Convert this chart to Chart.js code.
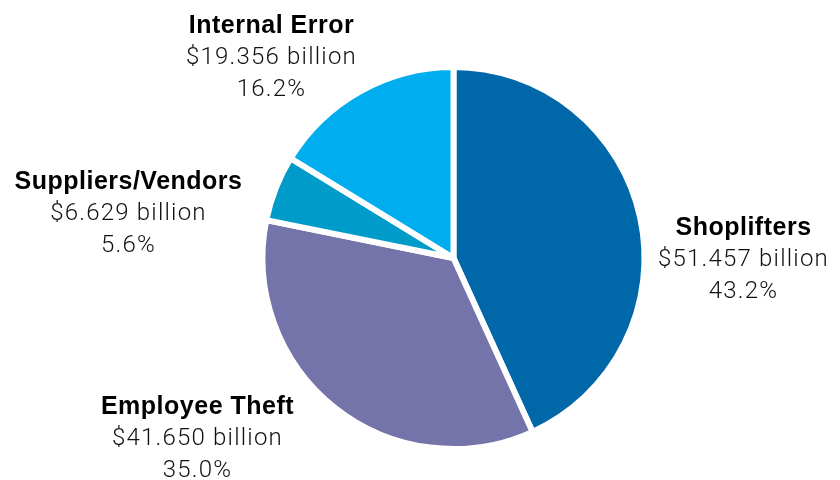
<!DOCTYPE html>
<html>
<head>
<meta charset="utf-8">
<script src="https://cdn.jsdelivr.net/npm/chart.js@4"></script>
<style>
html,body{margin:0;padding:0;background:#fff;}
#wrap{width:840px;height:480px;}
</style>
</head>
<body>
<div id="wrap"><canvas id="c" width="840" height="480"></canvas></div>
<script>
const categories = ["Shoplifters", "Employee Theft", "Suppliers/Vendors", "Internal Error"];
const valuesBillion = [51.457, 41.650, 6.629, 19.356];
const percentLabels = ["43.2%", "35.0%", "5.6%", "16.2%"];
const valueLabels = ["$51.457 billion", "$41.650 billion", "$6.629 billion", "$19.356 billion"];
const colors = ["#0068a8", "#7574aa", "#009bc8", "#00aeef"];

// label anchor offsets from pie centre (px) — layout only
const labelOffsets = [[290, 2], [-256, 181], [-325, -44], [-182, -200]];

const labelPlugin = {
  id: 'sliceLabels',
  afterDatasetsDraw(chart) {
    const ctx = chart.ctx;
    const meta = chart.getDatasetMeta(0);
    const arc0 = meta.data[0];
    const cx = arc0.x, cy = arc0.y;
    ctx.save();
    ctx.textAlign = 'center';
    ctx.textBaseline = 'middle';
    categories.forEach((name, i) => {
      const [dx, dy] = labelOffsets[i];
      const x = cx + dx, y = cy + dy;
      ctx.font = 'bold 25px "Liberation Sans", Arial, sans-serif';
      ctx.letterSpacing = '0.5px';
      ctx.fillStyle = '#000';
      ctx.fillText(name, x, y - 32);
      ctx.font = '300 24px Roboto, "Liberation Sans", sans-serif';
      ctx.letterSpacing = '1.2px';
      ctx.fillStyle = '#111';
      ctx.fillText(valueLabels[i], x, y);
      ctx.fillText(percentLabels[i], x, y + 32);
    });
    ctx.restore();
  }
};

new Chart(document.getElementById('c'), {
  type: 'pie',
  data: {
    labels: categories,
    datasets: [{
      data: valuesBillion,
      backgroundColor: colors,
      borderColor: '#ffffff',
      borderWidth: 6,
      hoverOffset: 0
    }]
  },
  options: {
    responsive: false,
    animation: false,
    radius: 191,
    layout: { padding: { left: 262, right: 195, top: 67, bottom: 31 } },
    plugins: {
      legend: { display: false },
      tooltip: { enabled: false }
    },
    events: []
  },
  plugins: [labelPlugin]
});
</script>
</body>
</html>
